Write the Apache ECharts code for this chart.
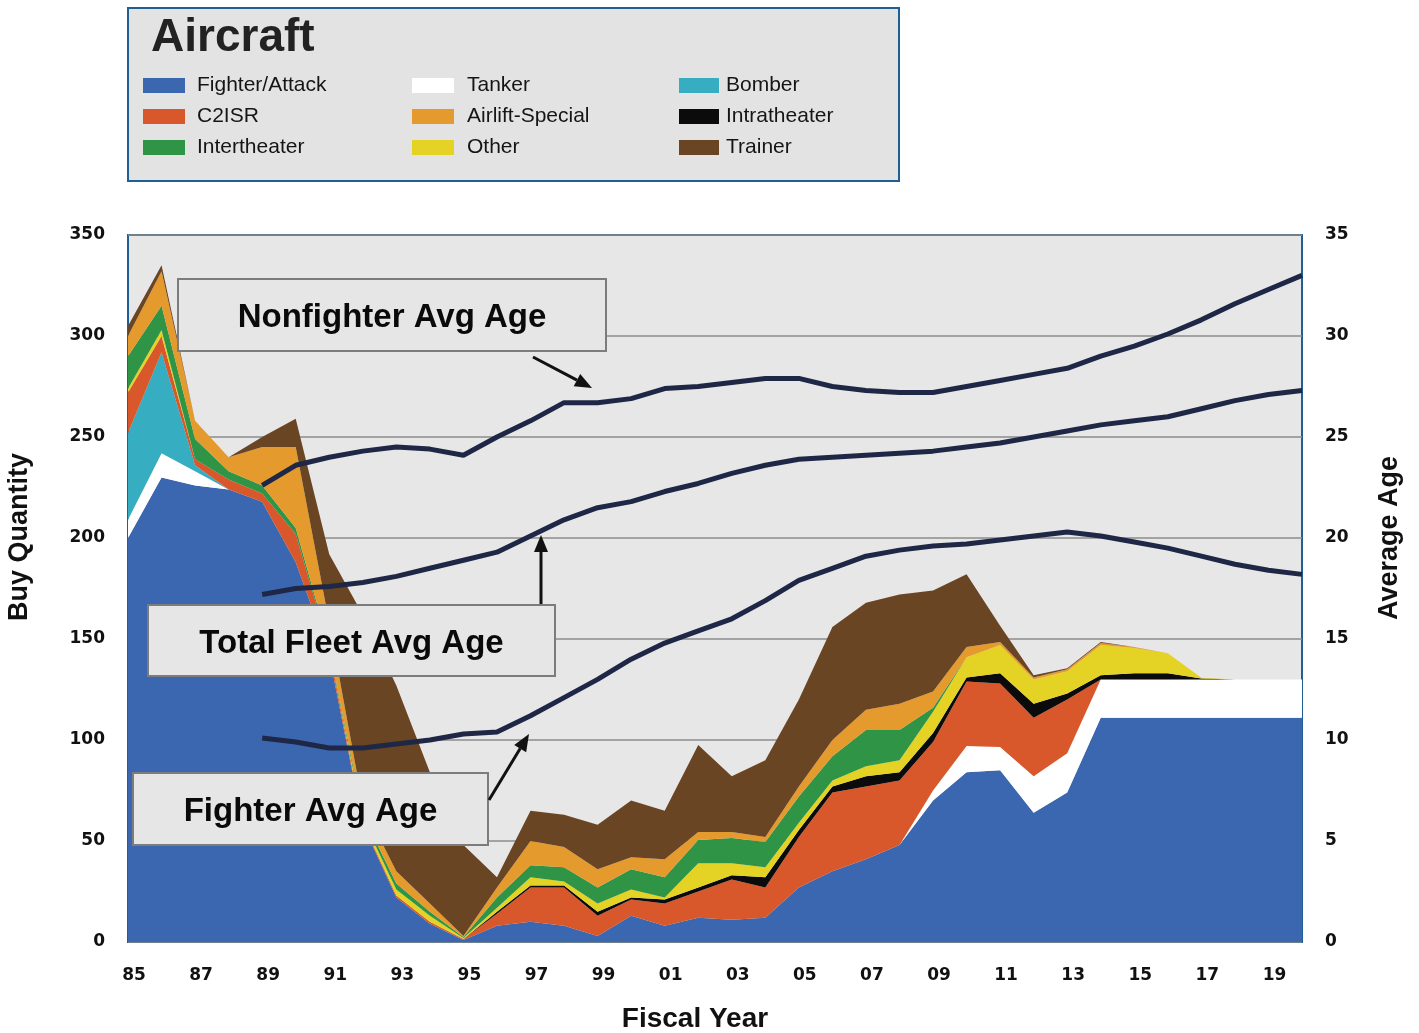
<!DOCTYPE html>
<html>
<head>
<meta charset="utf-8">
<title>Aircraft buy quantity and average age</title>
<script src="https://cdn.jsdelivr.net/npm/echarts@6/dist/echarts.min.js"></script>
<style>
  html, body { margin: 0; padding: 0; background: #fff; }
  #chart { width: 1419px; height: 1033px; }
</style>
</head>
<body>
<div id="chart"></div>
<script>
// fiscal years 1985 .. 2020
var years = ["1985", "1986", "1987", "1988", "1989", "1990", "1991", "1992", "1993",
  "1994", "1995", "1996", "1997", "1998", "1999", "2000", "2001", "2002", "2003",
  "2004", "2005", "2006", "2007", "2008", "2009", "2010", "2011", "2012", "2013",
  "2014", "2015", "2016", "2017", "2018", "2019", "2020"];

// buy quantity by mission (stacked, bottom to top)
var fighter = [200, 230, 226, 224, 218, 188, 142, 58, 22, 9, 1, 8, 10, 8, 3, 13, 8, 12,
  11, 12, 27, 35, 41, 48, 70, 84, 85, 64, 74, 111, 111, 111, 111, 111, 111, 111];
var tanker = [9, 12, 7, 0, 0, 0, 0, 0, 0, 0, 0, 0, 0, 0, 0, 0, 0, 0,
  0, 0, 0, 0, 0, 0, 5, 13, 11.5, 18, 19.5, 19, 19, 19, 19, 19, 19, 19];
var bomber = [43, 50, 3, 0, 0, 0, 0, 0, 0, 0, 0, 0, 0, 0, 0, 0, 0, 0,
  0, 0, 0, 0, 0, 0, 0, 0, 0, 0, 0, 0, 0, 0, 0, 0, 0, 0];
var c2isr = [20, 8, 3, 5, 4, 14, 3, 1, 1, 1, 0.5, 6, 17, 19, 10, 8, 11, 13,
  20, 15, 25, 39, 36, 32, 24, 32, 31.5, 29, 26.5, 0, 0, 0, 0, 0, 0, 0];
var intratheater = [0, 0, 0, 0, 0, 0, 0, 0, 0, 0, 0, 1, 1, 1, 2, 1, 2, 2,
  2, 5, 3.5, 3, 5, 4, 4.5, 2, 5, 7, 3, 2, 3, 3, 0.5, 0, 0, 0];
var other = [2, 3, 0, 0, 0, 0, 0, 2, 3, 3, 0.5, 2, 4, 2, 4, 4, 1, 12,
  6, 5, 3.5, 3, 5, 6, 10.5, 10, 14, 12, 11, 15, 12.5, 10, 0.3, 0, 0, 0];
var intertheater = [16, 12, 10, 4, 4, 3, 1, 2, 3, 2, 0.5, 5, 6, 7, 8, 10, 10, 11.5,
  12.5, 12.5, 13, 12, 18, 15, 2, 0, 0, 0, 0, 0, 0, 0, 0, 0, 0, 0];
var airlift = [10, 17, 9, 7, 19, 40, 12, 5, 6, 4, 0.5, 5, 12, 10, 9, 6, 9, 4,
  3, 2.5, 5, 8, 10, 13, 8, 5, 1.5, 1, 1, 1, 0.5, 0, 0, 0, 0, 0];
var trainer = [5, 3, 0, 0, 5, 14, 34, 94, 92, 65, 45, 5, 15, 16, 22, 28, 24, 43,
  27.5, 38, 43, 56, 53, 54, 50, 36, 8, 1, 0.5, 0.5, 0, 0, 0, 0, 0, 0];

// average age (years), starting FY89
var nonfighterAge = [null, null, null, null, 22.6, 23.6, 24.0, 24.3, 24.5, 24.4, 24.1, 25.0,
  25.8, 26.7, 26.7, 26.9, 27.4, 27.5, 27.7, 27.9, 27.9, 27.5, 27.3, 27.2,
  27.2, 27.5, 27.8, 28.1, 28.4, 29.0, 29.5, 30.1, 30.8, 31.6, 32.3, 33.0];
var totalAge = [null, null, null, null, 17.2, 17.5, 17.6, 17.8, 18.1, 18.5, 18.9, 19.3,
  20.1, 20.9, 21.5, 21.8, 22.3, 22.7, 23.2, 23.6, 23.9, 24.0, 24.1, 24.2,
  24.3, 24.5, 24.7, 25.0, 25.3, 25.6, 25.8, 26.0, 26.4, 26.8, 27.1, 27.3];
var fighterAge = [null, null, null, null, 10.1, 9.9, 9.6, 9.6, 9.8, 10.0, 10.3, 10.4,
  11.2, 12.1, 13.0, 14.0, 14.8, 15.4, 16.0, 16.9, 17.9, 18.5, 19.1, 19.4,
  19.6, 19.7, 19.9, 20.1, 20.3, 20.1, 19.8, 19.5, 19.1, 18.7, 18.4, 18.2];

var stackLayers = [
  { name: "Fighter/Attack", data: fighter, color: "#3b67b0" },
  { name: "Tanker", data: tanker, color: "#ffffff" },
  { name: "Bomber", data: bomber, color: "#36adc0" },
  { name: "C2ISR", data: c2isr, color: "#d9582b" },
  { name: "Intratheater", data: intratheater, color: "#0b0b0b" },
  { name: "Other", data: other, color: "#e4d224" },
  { name: "Intertheater", data: intertheater, color: "#2f9446" },
  { name: "Airlift-Special", data: airlift, color: "#e49a2c" },
  { name: "Trainer", data: trainer, color: "#6a4524" }
];
var ageLines = [
  { name: "Nonfighter Avg Age", data: nonfighterAge },
  { name: "Total Fleet Avg Age", data: totalAge },
  { name: "Fighter Avg Age", data: fighterAge }
];

var series = [];
stackLayers.forEach(function(s) {
  series.push({
    name: s.name,
    type: "line",
    stack: "buy",
    data: s.data,
    symbol: "none",
    lineStyle: { width: 0, color: s.color },
    itemStyle: { color: s.color },
    areaStyle: { color: s.color, opacity: 1 },
    z: 2
  });
});
ageLines.forEach(function(s) {
  series.push({
    name: s.name,
    type: "line",
    yAxisIndex: 1,
    data: s.data,
    symbol: "none",
    lineStyle: { width: 5, color: "#1f2746" },
    z: 5
  });
});

// arrow = shaft + filled head
function arrow(x1, y1, x2, y2) {
  var a = Math.atan2(y2 - y1, x2 - x1);
  var len = 17, hw = 7;
  var bx = x2 - len * Math.cos(a), by = y2 - len * Math.sin(a);
  var px = -Math.sin(a) * hw, py = Math.cos(a) * hw;
  return [
    { type: "line", z: 101, shape: { x1: x1, y1: y1, x2: bx, y2: by },
      style: { stroke: "#111", lineWidth: 3 } },
    { type: "polygon", z: 101,
      shape: { points: [[x2, y2], [bx + px, by + py], [bx - px, by - py]] },
      style: { fill: "#111" } }
  ];
}

function labelBox(x, y, w, h, text) {
  return [
    { type: "rect", z: 100, shape: { x: x, y: y, width: w, height: h },
      style: { fill: "#e6e6e6", stroke: "#7c7c7c", lineWidth: 2 } },
    { type: "text", z: 101, x: x + w / 2, y: y + h / 2 + 3,
      style: { text: text, align: "center", verticalAlign: "middle",
        font: "bold 33px 'Liberation Sans', Arial, sans-serif", fill: "#0a0a0a" } }
  ];
}

var graphics = [
  { type: "rect", z: 0, shape: { x: 128, y: 8, width: 771, height: 173 },
    style: { fill: "#e3e3e3", stroke: "#1f5f93", lineWidth: 2 } },
  { type: "text", z: 10, x: 20, y: 537, rotation: Math.PI / 2,
    style: { text: "Buy Quantity", align: "center", verticalAlign: "middle",
      font: "bold 27px 'Liberation Sans', Arial, sans-serif", fill: "#111" } },
  { type: "text", z: 10, x: 1390, y: 538, rotation: Math.PI / 2,
    style: { text: "Average Age", align: "center", verticalAlign: "middle",
      font: "bold 27px 'Liberation Sans', Arial, sans-serif", fill: "#111" } },
  { type: "text", z: 10, x: 695, y: 1019,
    style: { text: "Fiscal Year", align: "center", verticalAlign: "middle",
      font: "bold 28px 'Liberation Sans', Arial, sans-serif", fill: "#111" } }
]
  .concat(labelBox(178, 279, 428, 72, "Nonfighter Avg Age"))
  .concat(labelBox(148, 605, 407, 71, "Total Fleet Avg Age"))
  .concat(labelBox(133, 773, 355, 72, "Fighter Avg Age"))
  .concat(arrow(533, 357, 592, 388))
  .concat(arrow(541, 604, 541, 535))
  .concat(arrow(489, 800, 529, 734));

function legendCol(left, names, iconW, gap) {
  return {
    left: left, top: 75, orient: "vertical", icon: "rect", padding: 0,
    itemWidth: iconW, itemHeight: 15, itemGap: 10, selectedMode: false,
    data: names,
    textStyle: { fontSize: 21, lineHeight: 21, color: "#151515",
      fontFamily: "'Liberation Sans', Arial, sans-serif", padding: [0, 0, 0, gap] }
  };
}

var chart = echarts.init(document.getElementById("chart"));
chart.setOption({
  backgroundColor: "#ffffff",
  animation: false,
  title: {
    text: "Aircraft", left: 146, top: 10,
    textStyle: { fontSize: 46, fontWeight: "bold", color: "#222",
      fontFamily: "'Liberation Sans', Arial, sans-serif" }
  },
  legend: [
    legendCol(143, ["Fighter/Attack", "C2ISR", "Intertheater"], 42, 7),
    legendCol(412, ["Tanker", "Airlift-Special", "Other"], 42, 8),
    legendCol(679, ["Bomber", "Intratheater", "Trainer"], 40, 2)
  ],
  grid: {
    left: 128, right: 117, top: 235, bottom: 91,
    show: true, backgroundColor: "#e7e7e7", borderColor: "#1f5f93", borderWidth: 2
  },
  xAxis: {
    type: "category", data: years, boundaryGap: false,
    axisLine: { show: false }, axisTick: { show: false }, splitLine: { show: false },
    axisLabel: {
      interval: function(index) { return index % 2 === 0 && index < years.length - 1; },
      margin: 25, padding: [0, 0, 0, 12],
      fontSize: 17, fontWeight: "bold", color: "#111",
      fontFamily: "'DejaVu Sans', sans-serif",
      formatter: function(v) { return String(v).slice(2); }
    }
  },
  yAxis: [
    {
      type: "value", min: 0, max: 350, interval: 50,
      axisLine: { show: false }, axisTick: { show: false },
      splitLine: { show: true, lineStyle: { color: "#8c8c8c", width: 1.5 } },
      axisLabel: { margin: 23, fontSize: 17, fontWeight: "bold", color: "#111",
        fontFamily: "'DejaVu Sans', sans-serif" }
    },
    {
      type: "value", min: 0, max: 35, interval: 5, position: "right",
      axisLine: { show: false }, axisTick: { show: false }, splitLine: { show: false },
      axisLabel: { margin: 23, fontSize: 17, fontWeight: "bold", color: "#111",
        fontFamily: "'DejaVu Sans', sans-serif" }
    }
  ],
  graphic: graphics,
  series: series
});
</script>
</body>
</html>
